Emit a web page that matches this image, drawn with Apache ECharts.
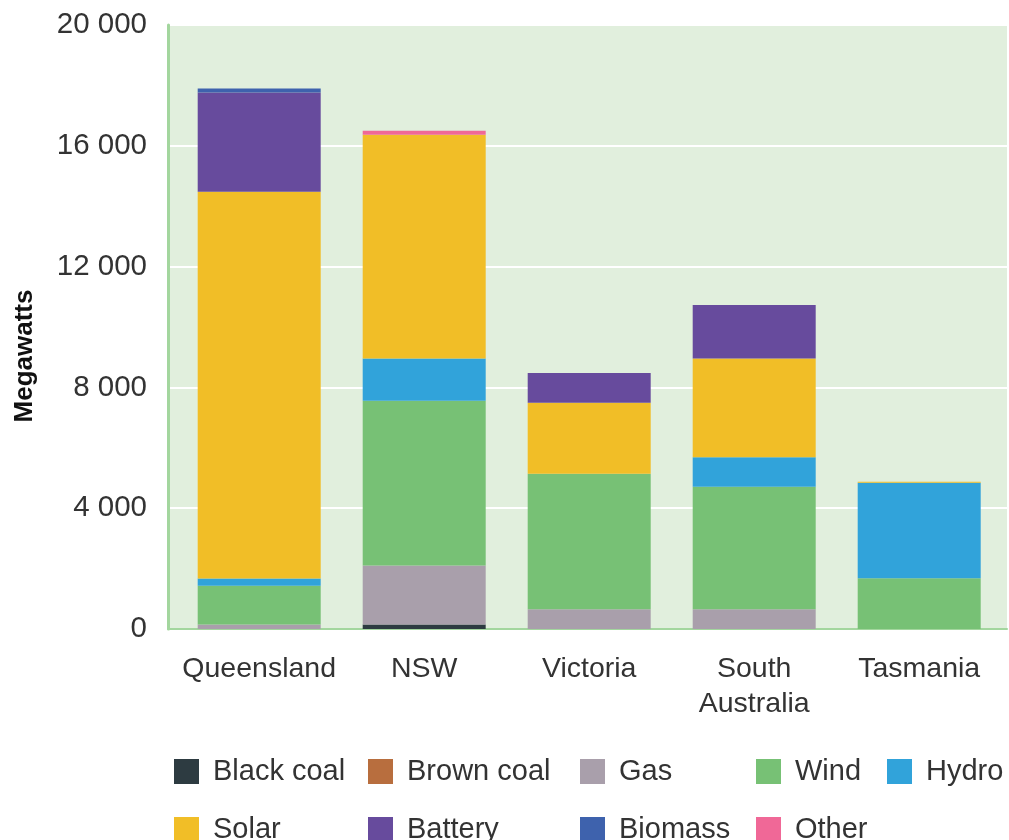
<!DOCTYPE html>
<html>
<head>
<meta charset="utf-8">
<script src="https://cdn.jsdelivr.net/npm/echarts@6/dist/echarts.min.js"></script>
<style>
  html, body { margin: 0; padding: 0; background: #fff; }
  #chart { width: 1009px; height: 840px; }
</style>
</head>
<body>
<div id="chart"></div>
<script>
// states
var categories = ['Queensland', 'NSW', 'Victoria', 'South\nAustralia', 'Tasmania'];
var yTicks = [0, 4000, 8000, 12000, 16000, 20000];

// megawatts per source
var blackCoal = [0, 150, 0, 0, 0];
var brownCoal = [0, 0, 0, 0, 0];
var gas       = [150, 1950, 650, 650, 0];
var wind      = [1280, 5460, 4490, 4060, 1680];
var hydro     = [245, 1400, 0, 980, 3160];
var solar     = [12800, 7410, 2350, 3270, 35];
var battery   = [3290, 0, 990, 1765, 0];
var biomass   = [130, 0, 0, 0, 0];
var other     = [0, 130, 0, 0, 0];

var chart = echarts.init(document.getElementById('chart'));

var font = 'Liberation Sans, Arial, sans-serif';

function bar(name, data, color) {
    return {
        name: name,
        type: 'bar',
        stack: 'total',
        xAxisIndex: 1,
        yAxisIndex: 1,
        barWidth: 123,
        itemStyle: { color: color },
        data: data
    };
}

// legend is laid out in columns, one legend per column
function legendCol(left, names) {
    return {
        left: left,
        top: 757,
        height: 150,
        padding: 0,
        orient: 'vertical',
        itemWidth: 25,
        itemHeight: 25,
        itemGap: 29,
        icon: 'rect',
        selectedMode: false,
        textStyle: { fontFamily: font, fontSize: 29, lineHeight: 25, color: '#333', padding: [0, 0, 0, 9] },
        data: names
    };
}

var option = {
    animation: false,
    grid: [
        { left: 168, right: 2, top: 25, bottom: 211, show: true, backgroundColor: '#e1efdd', borderWidth: 0 },
        { left: 176.7, right: 7.3, top: 25, bottom: 211 }
    ],
    graphic: [{
        type: 'text',
        x: 25,
        y: 356,
        rotation: Math.PI / 2,
        style: {
            text: 'Megawatts',
            fontFamily: font,
            fontSize: 26,
            fontWeight: 'bold',
            fill: '#111',
            align: 'center',
            verticalAlign: 'middle'
        }
    }],
    legend: [
        legendCol(174, ['Black coal', 'Solar']),
        legendCol(368, ['Brown coal', 'Battery']),
        legendCol(580, ['Gas', 'Biomass']),
        legendCol(756, ['Wind', 'Other']),
        legendCol(887, ['Hydro'])
    ],
    xAxis: [{
        gridIndex: 0,
        type: 'value',
        min: 0, max: 1,
        axisLine: { show: true, onZero: false, lineStyle: { color: '#a3d69e', width: 2 } },
        axisTick: { show: false },
        axisLabel: { show: false },
        splitLine: { show: false }
    }, {
        gridIndex: 1,
        type: 'category',
        data: categories,
        axisLine: { show: false },
        axisTick: { show: false },
        axisLabel: {
            interval: 0,
            margin: 23,
            fontFamily: font,
            fontSize: 28.5,
            lineHeight: 35,
            color: '#333',
            verticalAlign: 'top'
        }
    }],
    yAxis: [{
        gridIndex: 0,
        type: 'value',
        min: 0, max: 20000, interval: 4000,
        axisLine: { show: true, lineStyle: { color: '#a3d69e', width: 3 } },
        axisTick: { show: false },
        axisLabel: {
            margin: 21,
            fontFamily: font,
            fontSize: 29.5,
            color: '#333',
            formatter: function (v) {
                return yTicks.indexOf(v) < 0 ? '' : String(v).replace(/\B(?=(\d{3})+(?!\d))/g, ' ');
            }
        },
        splitLine: { show: true, lineStyle: { color: '#ffffff', width: 2 } }
    }, {
        gridIndex: 1,
        type: 'value',
        min: 0, max: 20000,
        show: false
    }],
    series: [
        bar('Black coal', blackCoal, '#2d3b41'),
        bar('Brown coal', brownCoal, '#b86e3e'),
        bar('Gas', gas, '#a99fab'),
        bar('Wind', wind, '#77c175'),
        bar('Hydro', hydro, '#31a3da'),
        bar('Solar', solar, '#f1be27'),
        bar('Battery', battery, '#674b9d'),
        bar('Biomass', biomass, '#3e62ad'),
        bar('Other', other, '#f06897')
    ]
};

chart.setOption(option);
</script>
</body>
</html>
